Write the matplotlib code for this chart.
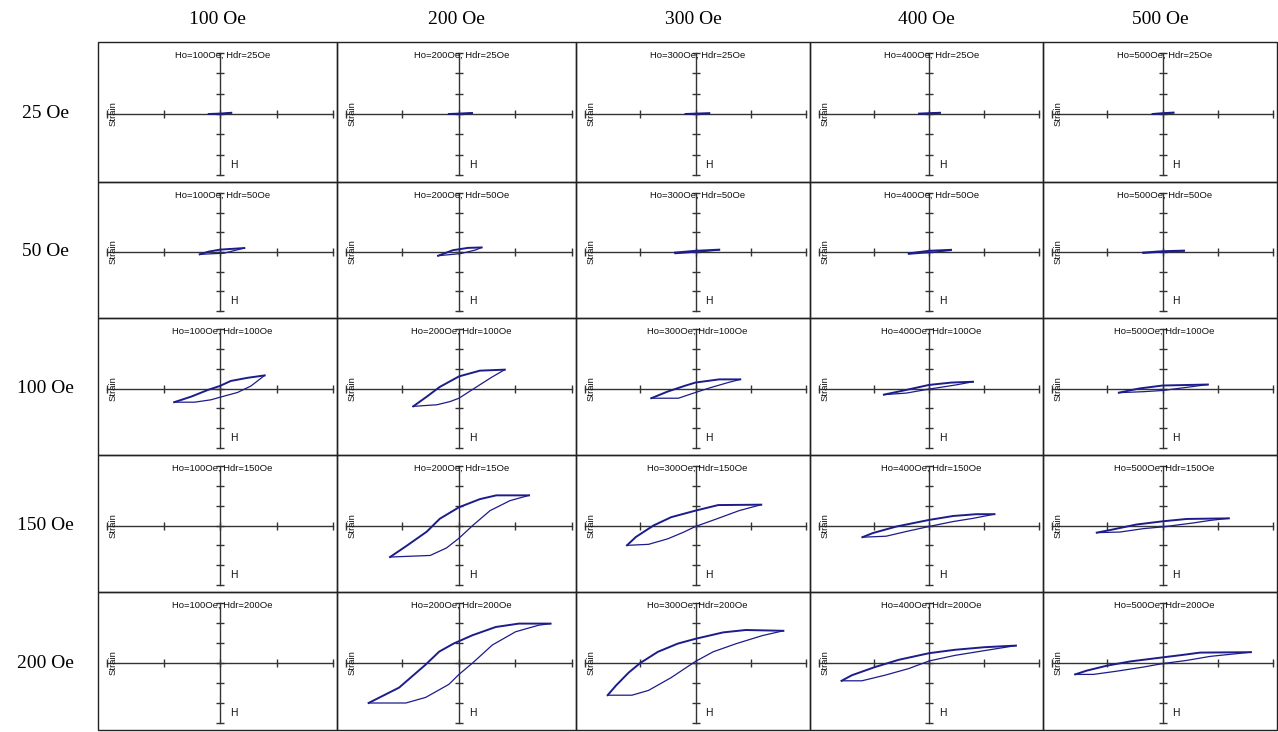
import matplotlib
matplotlib.use('Agg')
import matplotlib.pyplot as plt

# bias field (columns) and drive field (rows)
ho_vals = [100, 200, 300, 400, 500]
hdr_vals = [25, 50, 100, 150, 200]
col_labels = ['100 Oe', '200 Oe', '300 Oe', '400 Oe', '500 Oe']
row_labels = ['25 Oe', '50 Oe', '100 Oe', '150 Oe', '200 Oe']

# loop branches, in tick units (H ticks -2..2, strain ticks -3..3)
# Hdr = 25
up_100_25 = [(-0.2, 0.0), (0.0, 0.02), (0.2, 0.06)]
lo_100_25 = [(-0.2, -0.01), (0.0, 0.0), (0.2, 0.05)]
up_200_25 = [(-0.18, 0.0), (0.0, 0.02), (0.23, 0.05)]
lo_200_25 = [(-0.18, -0.02), (0.0, 0.0), (0.23, 0.04)]
up_300_25 = [(-0.18, 0.0), (0.0, 0.02), (0.25, 0.04)]
lo_300_25 = [(-0.18, -0.02), (0.0, 0.0), (0.25, 0.03)]
up_400_25 = [(-0.18, 0.02), (0.0, 0.04), (0.2, 0.06)]
lo_400_25 = [(-0.18, 0.0), (0.0, 0.02), (0.2, 0.05)]
up_500_25 = [(-0.18, 0.0), (0.0, 0.04), (0.2, 0.07)]
lo_500_25 = [(-0.18, -0.02), (0.0, 0.01), (0.2, 0.05)]
# Hdr = 50
up_100_50 = [(-0.36, -0.12), (-0.2, 0.02), (0.0, 0.12), (0.43, 0.2)]
lo_100_50 = [(-0.36, -0.12), (0.07, -0.06), (0.43, 0.2)]
up_200_50 = [(-0.37, -0.19), (-0.11, 0.09), (0.16, 0.21), (0.4, 0.23)]
lo_200_50 = [(-0.37, -0.19), (0.03, -0.08), (0.29, 0.1), (0.4, 0.23)]
up_300_50 = [(-0.37, -0.03), (0.0, 0.06), (0.43, 0.12)]
lo_300_50 = [(-0.37, -0.08), (0.0, -0.01), (0.43, 0.1)]
up_400_50 = [(-0.37, -0.07), (0.0, 0.06), (0.4, 0.11)]
lo_400_50 = [(-0.37, -0.11), (0.0, -0.03), (0.4, 0.08)]
up_500_50 = [(-0.35, -0.03), (0.0, 0.04), (0.39, 0.07)]
lo_500_50 = [(-0.35, -0.06), (0.0, -0.01), (0.39, 0.05)]
# Hdr = 100
up_100_100 = [(-0.81, -0.69), (-0.51, -0.41), (-0.22, -0.08), (0.0, 0.13), (0.19, 0.38), (0.49, 0.54), (0.79, 0.66)]
lo_100_100 = [(-0.81, -0.69), (-0.45, -0.69), (-0.16, -0.57), (0.0, -0.44), (0.31, -0.2), (0.55, 0.13), (0.79, 0.66)]
up_200_100 = [(-0.81, -0.9), (-0.57, -0.41), (-0.34, 0.08), (0.0, 0.61), (0.37, 0.9), (0.81, 0.95)]
lo_200_100 = [(-0.81, -0.9), (-0.39, -0.82), (-0.16, -0.66), (0.0, -0.49), (0.31, 0.08), (0.58, 0.57), (0.81, 0.95)]
up_300_100 = [(-0.8, -0.49), (-0.51, -0.16), (-0.2, 0.13), (0.0, 0.3), (0.43, 0.46), (0.81, 0.46)]
lo_300_100 = [(-0.8, -0.49), (-0.31, -0.49), (0.0, -0.2), (0.28, 0.05), (0.59, 0.3), (0.81, 0.46)]
up_400_100 = [(-0.82, -0.31), (-0.41, -0.07), (0.0, 0.18), (0.41, 0.3), (0.8, 0.34)]
lo_400_100 = [(-0.82, -0.31), (-0.41, -0.23), (0.0, -0.03), (0.49, 0.18), (0.8, 0.34)]
up_500_100 = [(-0.79, -0.21), (-0.42, 0.0), (0.0, 0.15), (0.82, 0.2)]
lo_500_100 = [(-0.79, -0.21), (-0.34, -0.16), (0.0, -0.1), (0.47, 0.07), (0.82, 0.2)]
# Hdr = 150
up_200_150 = [(-1.22, -1.59), (-0.94, -1.05), (-0.57, -0.31), (-0.34, 0.34), (0.0, 0.92), (0.37, 1.33), (0.66, 1.52), (1.24, 1.52)]
lo_200_150 = [(-1.22, -1.59), (-0.51, -1.51), (-0.22, -1.13), (0.0, -0.64), (0.25, 0.02), (0.55, 0.75), (0.9, 1.25), (1.24, 1.52)]
up_300_150 = [(-1.24, -1.0), (-1.08, -0.58), (-0.76, 0.0), (-0.44, 0.42), (0.0, 0.75), (0.41, 1.03), (1.19, 1.05)]
lo_300_150 = [(-1.24, -1.0), (-0.85, -0.95), (-0.5, -0.67), (-0.21, -0.33), (0.0, -0.05), (0.38, 0.33), (0.79, 0.75), (1.19, 1.05)]
up_400_150 = [(-1.21, -0.59), (-1.02, -0.38), (-0.59, -0.05), (0.0, 0.28), (0.44, 0.48), (0.86, 0.57), (1.19, 0.57)]
lo_400_150 = [(-1.21, -0.59), (-0.78, -0.54), (-0.41, -0.3), (0.0, -0.05), (0.44, 0.2), (0.8, 0.36), (1.19, 0.57)]
up_500_150 = [(-1.19, -0.36), (-0.95, -0.23), (-0.47, 0.05), (0.0, 0.21), (0.44, 0.33), (1.2, 0.36)]
lo_500_150 = [(-1.19, -0.36), (-0.77, -0.33), (-0.35, -0.16), (0.0, -0.07), (0.56, 0.13), (0.87, 0.26), (1.2, 0.36)]
# Hdr = 200
up_200_200 = [(-1.6, -2.0), (-1.06, -1.23), (-0.59, -0.08), (-0.35, 0.57), (-0.09, 0.98), (0.24, 1.39), (0.65, 1.8), (1.06, 1.97), (1.62, 1.97)]
lo_200_200 = [(-1.6, -2.0), (-0.94, -2.0), (-0.59, -1.72), (-0.18, -1.07), (0.0, -0.57), (0.24, 0.0), (0.59, 0.9), (1.0, 1.56), (1.41, 1.89), (1.62, 1.97)]
up_300_200 = [(-1.59, -1.61), (-1.44, -1.13), (-1.21, -0.48), (-1.0, 0.0), (-0.68, 0.56), (-0.32, 0.97), (0.0, 1.21), (0.5, 1.53), (0.91, 1.65), (1.59, 1.61)]
lo_300_200 = [(-1.59, -1.61), (-1.15, -1.61), (-0.85, -1.37), (-0.44, -0.73), (0.0, 0.08), (0.32, 0.56), (0.74, 0.97), (1.21, 1.37), (1.59, 1.61)]
up_400_200 = [(-1.59, -0.89), (-1.4, -0.61), (-0.98, -0.2), (-0.55, 0.16), (0.0, 0.49), (0.47, 0.66), (1.01, 0.79), (1.58, 0.87)]
lo_400_200 = [(-1.59, -0.89), (-1.22, -0.89), (-0.8, -0.61), (-0.37, -0.28), (0.0, 0.1), (0.47, 0.38), (1.01, 0.62), (1.58, 0.87)]
up_500_200 = [(-1.58, -0.57), (-1.37, -0.38), (-1.0, -0.13), (-0.58, 0.08), (0.0, 0.28), (0.38, 0.41), (0.68, 0.52), (1.6, 0.54)]
lo_500_200 = [(-1.58, -0.57), (-1.25, -0.57), (-0.83, -0.41), (-0.34, -0.2), (0.0, -0.03), (0.44, 0.13), (0.86, 0.33), (1.6, 0.54)]

loops = {}
for ho in ho_vals:
    for hdr in hdr_vals:
        name = '%d_%d' % (ho, hdr)
        if 'up_' + name in globals():
            loops[(ho, hdr)] = (globals()['up_' + name], globals()['lo_' + name])

# titles as printed (one has a typo in the original)
titles = {(200, 150): 'Ho=200Oe, Hdr=15Oe'}

# ---- layout (pixels) ----
W, H = 1278, 732
col_edges = [98, 337, 576, 810, 1043, 1277]
row_edges = [42, 182, 318, 455, 592, 730]
loop_color = '#1c1c8a'
axis_color = '#333333'

fig = plt.figure(figsize=(W / 100, H / 100), dpi=100)
fig.patch.set_facecolor('white')

for i, hdr in enumerate(hdr_vals):
    for j, ho in enumerate(ho_vals):
        x0, x1 = col_edges[j], col_edges[j + 1]
        y0, y1 = row_edges[i], row_edges[i + 1]
        w, h = x1 - x0, y1 - y0
        ax = fig.add_axes([x0 / W, 1 - y1 / H, w / W, h / H])
        ux = (w - 13) / 4.0
        uy = (h - 18) / 6.0
        ax.set_xlim(-2 - 9 / ux, 2 + 4 / ux)
        ax.set_ylim(-3 - 7 / uy, 3 + 11 / uy)
        ax.patch.set_alpha(0)

        # cross axes through zero
        ax.spines['right'].set_color('none')
        ax.spines['top'].set_color('none')
        ax.spines['bottom'].set_position(('data', 0))
        ax.spines['left'].set_position(('data', 0))
        ax.spines['bottom'].set_bounds(-2, 2)
        ax.spines['left'].set_bounds(-3, 3)
        for s in ['bottom', 'left']:
            ax.spines[s].set_color(axis_color)
            ax.spines[s].set_linewidth(1.0)
        ax.set_xticks([-2, -1, 0, 1, 2])
        ax.set_yticks([-3, -2, -1, 0, 1, 2, 3])
        ax.tick_params(direction='inout', length=6, width=1.0, color=axis_color,
                       labelbottom=False, labelleft=False)

        # panel frame
        ax.add_patch(plt.Rectangle((0, 0), 1, 1, transform=ax.transAxes, fill=False,
                                   ec='#222222', lw=1.0, clip_on=False, zorder=5))

        if (ho, hdr) in loops:
            up, lo = loops[(ho, hdr)]
            ax.plot([p[0] for p in up], [p[1] for p in up], color=loop_color, lw=1.4, zorder=4)
            ax.plot([p[0] for p in lo], [p[1] for p in lo], color=loop_color, lw=0.9, zorder=4)

        title = titles.get((ho, hdr), 'Ho=%dOe, Hdr=%dOe' % (ho, hdr))
        ax.text(0.52, 1 - 13.0 / h, title, transform=ax.transAxes, ha='center', va='center',
                fontsize=6.8, family='Liberation Sans', color='#111111')
        ax.text(15.0 / w, 0, 'Strain', transform=ax.get_yaxis_transform(), rotation=90,
                ha='center', va='center', fontsize=6.8, family='Liberation Sans', color='#111111')
        ax.text(10 / ux, -2.5, 'H', ha='left', va='center', fontsize=7.5,
                family='Liberation Sans', color='#111111')

# column and row headers
for j, lab in enumerate(col_labels):
    xc = (col_edges[j] + col_edges[j + 1]) / 2.0
    fig.text(xc / W, 1 - 20.0 / H, lab, ha='center', va='center', fontsize=14,
             family='Liberation Serif')
for i, lab in enumerate(row_labels):
    yc = (row_edges[i] + row_edges[i + 1]) / 2.0
    fig.text(45.0 / W, 1 - (yc + 2) / H, lab, ha='center', va='center', fontsize=14,
             family='Liberation Serif')

fig.savefig('out.png', dpi=100)
